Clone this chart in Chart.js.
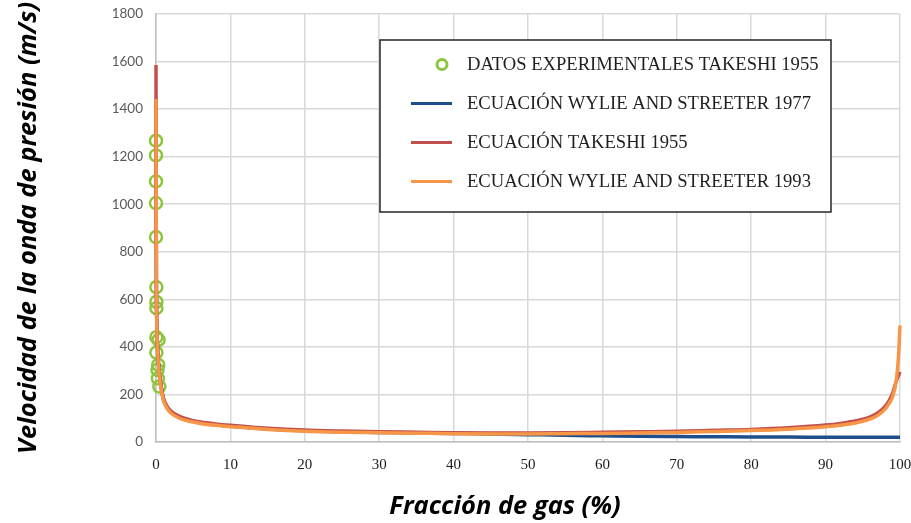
<!DOCTYPE html>
<html>
<head>
<meta charset="utf-8">
<script src="https://cdn.jsdelivr.net/npm/chart.js@4.4.1/dist/chart.umd.min.js"></script>
<style>
  html, body { margin: 0; padding: 0; background: #ffffff; }
  #wrap { width: 911px; height: 523px; position: relative; }
</style>
</head>
<body>
<div id="wrap"><canvas id="chart"></canvas></div>
<script>
// Gas fraction (%) at which the three wave-speed equations are evaluated
const gasFraction = [0, 0.05, 0.1, 0.2, 0.3, 0.5, 0.75, 1, 1.5, 2, 3, 4, 5, 6, 8, 10, 12, 15, 20, 25, 30, 35, 40, 45, 50,
  55, 60, 65, 70, 75, 80, 85, 90, 92, 94, 95, 96, 97, 98, 98.5, 99, 99.5, 99.8, 100];

// Pressure-wave speed (m/s) for each equation
const wylieStreeter1977 = [1443, 690, 510, 400, 342, 272, 218, 180, 145, 126, 106, 94, 87, 81, 73, 67, 62, 55, 47, 43, 40,
  38, 36, 34, 31, 28, 26, 24, 23, 22, 21, 21, 20, 20, 20, 20, 20, 20, 20, 20, 20, 20, 20, 20];
const takeshi1955 = [1585, 700, 520, 410, 350, 280, 225, 185, 150, 130, 110, 98, 90, 84, 76, 70, 65, 58, 50, 46, 43,
  41, 39, 38, 38, 39, 41, 43, 45, 49, 53, 60, 71, 78, 88, 96, 106, 122, 150, 172, 205, 255, 280, 295];
const wylieStreeter1993 = [1443, 680, 500, 395, 335, 265, 212, 175, 140, 122, 102, 91, 84, 78, 70, 64, 60, 53, 45, 41, 39,
  37, 35, 34, 34, 35, 36, 38, 40, 44, 48, 54, 64, 70, 80, 87, 97, 112, 138, 160, 190, 260, 360, 490];

// Takeshi (1955) experimental measurements
const expGasFraction = [0, 0, 0, 0, 0, 0.05, 0.05, 0.05, 0.05, 0.35, 0.05, 0.3, 0.2, 0.25, 0.45];
const expSpeed = [1267, 1205, 1096, 1005, 862, 651, 589, 563, 441, 430, 376, 324, 303, 268, 233];

const xTickValues = [0, 10, 20, 30, 40, 50, 60, 70, 80, 90, 100];
const yTickValues = [0, 200, 400, 600, 800, 1000, 1200, 1400, 1600, 1800];

const seriesNames = [
  'DATOS EXPERIMENTALES TAKESHI 1955',
  'ECUACIÓN WYLIE AND STREETER 1977',
  'ECUACIÓN TAKESHI 1955',
  'ECUACIÓN WYLIE AND STREETER 1993'
];

const xAxisTitle = 'Fracción de gas (%)';
const yAxisTitle = 'Velocidad de la onda de presión (m/s)';

const COLORS = {
  exp: '#8cc63f',
  w1977: '#1f4e8c',
  tak: '#c0504d',
  w1993: '#f79646',
  grid: '#d9d9d9',
  axis: '#bfbfbf'
};

const toPoints = (xs, ys) => xs.map((x, i) => ({ x: x, y: ys[i] }));

const lineDataset = (label, values, color, order) => ({
  type: 'line',
  label: label,
  data: toPoints(gasFraction, values),
  borderColor: color,
  backgroundColor: color,
  borderWidth: 3.5,
  pointRadius: 0,
  cubicInterpolationMode: 'monotone',
  clip: false,
  order: order
});

const titleFont = { family: '"Open Sans", sans-serif', size: 25.5, weight: 'bold', style: 'italic' };

// Legend in a framed white box placed inside the plot area
const boxedLegend = {
  id: 'boxedLegend',
  afterDatasetsDraw(chart) {
    const { ctx, chartArea } = chart;
    const left = chartArea.left + 224;
    const top = chartArea.top + 26;
    const w = 451, h = 172;
    ctx.save();
    ctx.fillStyle = '#ffffff';
    ctx.fillRect(left, top, w, h);
    ctx.strokeStyle = '#262626';
    ctx.lineWidth = 1.5;
    ctx.strokeRect(left, top, w, h);

    const entries = [
      { kind: 'circle', color: COLORS.exp },
      { kind: 'line', color: COLORS.w1977 },
      { kind: 'line', color: COLORS.tak },
      { kind: 'line', color: COLORS.w1993 }
    ];
    ctx.font = '18.6px "Liberation Serif", "Times New Roman", serif';
    ctx.textBaseline = 'middle';
    ctx.textAlign = 'left';
    entries.forEach((e, i) => {
      const y = top + 24.5 + i * 39;
      if (e.kind === 'circle') {
        ctx.beginPath();
        ctx.arc(left + 62, y, 5, 0, Math.PI * 2);
        ctx.strokeStyle = e.color;
        ctx.lineWidth = 3;
        ctx.stroke();
      } else {
        ctx.beginPath();
        ctx.moveTo(left + 31, y);
        ctx.lineTo(left + 72, y);
        ctx.strokeStyle = e.color;
        ctx.lineWidth = 3;
        ctx.stroke();
      }
      ctx.fillStyle = '#1f1f1f';
      ctx.fillText(seriesNames[i], left + 87, y + 1);
    });
    ctx.restore();
  }
};

// Horizontal axis title, set a little left of the plot centre
const xTitlePlugin = {
  id: 'xTitle',
  afterDraw(chart) {
    const { ctx, chartArea } = chart;
    ctx.save();
    ctx.font = `italic bold ${titleFont.size}px ${titleFont.family}`;
    ctx.fillStyle = '#000000';
    ctx.textAlign = 'center';
    ctx.textBaseline = 'middle';
    ctx.fillText(xAxisTitle, chartArea.left + 349, chartArea.bottom + 65);
    ctx.restore();
  }
};

new Chart(document.getElementById('chart'), {
  type: 'line',
  data: {
    datasets: [
      {
        type: 'scatter',
        label: seriesNames[0],
        data: toPoints(expGasFraction, expSpeed),
        showLine: false,
        pointStyle: 'circle',
        pointRadius: 6,
        pointBorderWidth: 2.5,
        pointBorderColor: COLORS.exp,
        pointBackgroundColor: 'rgba(0,0,0,0)',
        borderColor: COLORS.exp,
        clip: false,
        order: 4
      },
      lineDataset(seriesNames[1], wylieStreeter1977, COLORS.w1977, 3),
      lineDataset(seriesNames[2], takeshi1955, COLORS.tak, 2),
      lineDataset(seriesNames[3], wylieStreeter1993, COLORS.w1993, 1)
    ]
  },
  options: {
    responsive: true,
    maintainAspectRatio: false,
    animation: false,
    events: [],
    layout: { padding: { left: 10, top: 14, right: 11, bottom: 0 } },
    plugins: {
      legend: { display: false },
      tooltip: { enabled: false }
    },
    scales: {
      x: {
        type: 'linear',
        min: 0,
        max: 100,
        afterBuildTicks: (s) => { s.ticks = xTickValues.map(v => ({ value: v })); },
        afterFit: (s) => { s.height = 81; s.paddingRight = 0; s.paddingLeft = 0; },
        ticks: {
          padding: 14,
          color: '#1a1a1a',
          callback: (v) => String(v),
          font: { family: '"Liberation Serif", "Times New Roman", serif', size: 15 }
        },
        grid: { color: COLORS.grid, lineWidth: 1.5, drawTicks: false },
        border: { color: COLORS.axis, width: 1.5 },
        title: { display: false }
      },
      y: {
        type: 'linear',
        min: 0,
        max: 1800,
        afterBuildTicks: (s) => { s.ticks = yTickValues.map(v => ({ value: v })); },
        afterFit: (s) => { s.width = 146; s.paddingTop = 0; s.paddingBottom = 0; },
        ticks: {
          padding: 13,
          color: '#595959',
          callback: (v) => String(v),
          font: { family: 'Lato, "Liberation Sans", sans-serif', size: 13.5 }
        },
        grid: { color: COLORS.grid, lineWidth: 1.5, drawTicks: false },
        border: { color: COLORS.axis, width: 1.5 },
        title: {
          display: true,
          text: yAxisTitle,
          color: '#000000',
          font: titleFont,
          padding: { top: 3, bottom: 0 }
        }
      }
    }
  },
  plugins: [boxedLegend, xTitlePlugin]
});
</script>
</body>
</html>
